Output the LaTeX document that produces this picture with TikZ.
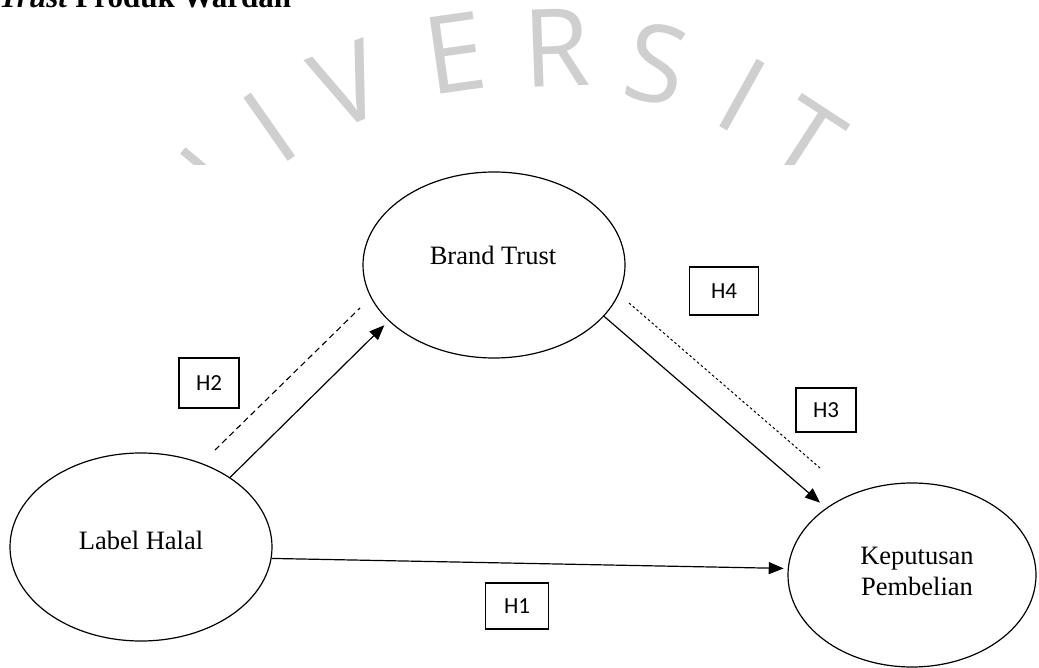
\documentclass[tikz,border=0pt]{standalone}
\usepackage{fontspec}
\setmainfont{Liberation Serif}
\newfontfamily\carlito{Carlito}
\newfontfamily\wmfont{Open Sans}
\usetikzlibrary{shapes.geometric,arrows.meta}
\begin{document}
\begin{tikzpicture}[x=1pt,y=-1pt,
  ell/.style={draw,ellipse,line width=1.2pt,inner sep=0pt},
  lbl/.style={font=\fontsize{26.5}{31}\selectfont,align=center,inner sep=0pt},
  hbox/.style={draw,rectangle,line width=1.2pt,inner sep=0pt,font=\carlito\fontsize{23}{26}\selectfont},
  arr/.style={line width=1.2pt,-{Triangle[length=15pt,width=12pt]}},
  dashln/.style={line width=1.1pt,dash pattern=on 6pt off 4pt},
  dotln/.style={line width=1pt,dash pattern=on 2.5pt off 2.5pt},
  wm/.style={font=\wmfont\fontsize{108}{108}\selectfont,text=black!19,inner sep=0pt}
]
\useasboundingbox (0,0) rectangle (1039,668);
% watermark
\begin{scope}
\clip (0,-20) rectangle (1039,165);
\foreach \x/\y/\r/\ch [count=\i] in {196/196/50/N,270/127/35/I,348/85/21/V,455/53/8/E,557/48/2/R,657/64/-12/S,742/95/-29/I,806/141/-33/T} {
  \node[wm,rotate=\r] (wm\i) at (\x,\y) {\ch};
}
\end{scope}
% header
\node[anchor=base west,inner sep=0pt,font=\fontsize{31}{36}\selectfont\bfseries] (hdr) at (-1,8) {\textit{Trust} Produk Wardah};
% ellipses
\node[ell,minimum width=262pt,minimum height=188pt] (LH) at (141,547) {};
\node[lbl] (LHt) at (141,540) {Label Halal};
\node[ell,minimum width=262pt,minimum height=186pt] (BT) at (494,265) {};
\node[lbl] (BTt) at (493,255) {Brand Trust};
\node[ell,minimum width=248pt,minimum height=184pt] (KP) at (912,575) {};
\node[lbl] (KPt) at (917,571) {Keputusan\\Pembelian};
% connectors
\draw[arr,shorten >=4pt] (LH.-5) -- (KP.177);
\draw[arr,shorten >=6pt] (LH.38) -- (BT.208);
\draw[arr,shorten >=8pt] (BT.-25.5) -- (KP.142);
\coordinate (d2a) at (215,450);
\coordinate (d2b) at (360,308);
\draw[dashln] (d2a) -- (d2b);
\coordinate (d4a) at (629,303);
\coordinate (d4b) at (820,468);
\draw[dotln] (d4a) -- (d4b);
% hypothesis boxes
\node[hbox,minimum width=60pt,minimum height=50pt] (H2) at (209,383) {H2};
\node[hbox,minimum width=69pt,minimum height=48pt] (H4) at (724,291) {H4};
\node[hbox,minimum width=60pt,minimum height=44pt] (H3) at (826,410) {H3};
\node[hbox,minimum width=63pt,minimum height=46pt] (H1) at (517,606) {H1};
\end{tikzpicture}
\end{document}
